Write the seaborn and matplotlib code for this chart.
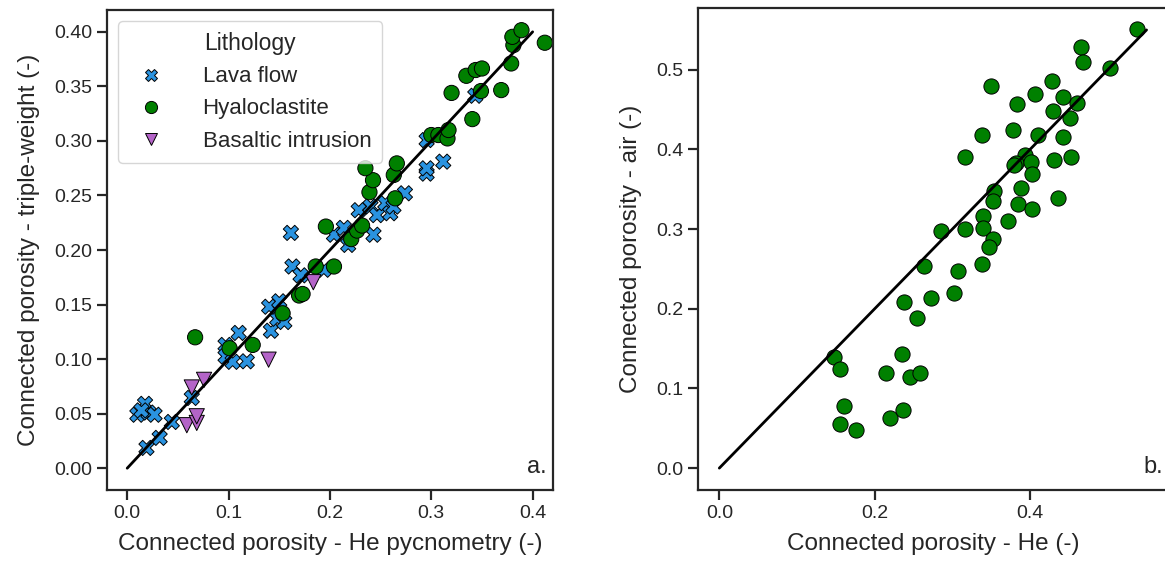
import matplotlib
matplotlib.use("Agg")
import matplotlib.pyplot as plt
import pandas as pd
import seaborn as sns

# left panel: He pycnometry vs triple-weight, by lithology
lava_he = [0.0176, 0.010, 0.021, 0.027, 0.014, 0.044, 0.032, 0.019, 0.0637,
           0.097, 0.097, 0.104, 0.118, 0.110, 0.1418, 0.148, 0.155, 0.140,
           0.150, 0.1615, 0.163, 0.171, 0.194, 0.204, 0.2137, 0.218, 0.2284,
           0.240, 0.2464, 0.243, 0.2546, 0.2595, 0.2627, 0.274, 0.2954,
           0.2954, 0.2954, 0.3118, 0.3434]
lava_tw = [0.059, 0.049, 0.051, 0.049, 0.053, 0.0424, 0.0278, 0.0186, 0.0644,
           0.113, 0.1025, 0.0975, 0.098, 0.124, 0.126, 0.137, 0.134, 0.148,
           0.153, 0.2157, 0.1849, 0.1768, 0.1819, 0.214, 0.2203, 0.2047, 0.2365,
           0.240, 0.232, 0.214, 0.243, 0.2337, 0.2398, 0.252, 0.270,
           0.2749, 0.3008, 0.281, 0.3414]

hyalo_he = [0.067, 0.101, 0.1238, 0.1533, 0.1696, 0.173, 0.186, 0.204, 0.196,
            0.221, 0.2268, 0.2317, 0.239, 0.2425, 0.235, 0.2644, 0.263, 0.266,
            0.300, 0.307, 0.316, 0.317, 0.3405, 0.320, 0.349, 0.369, 0.3346,
            0.3438, 0.350, 0.3788, 0.381, 0.380, 0.389, 0.412]
hyalo_tw = [0.120, 0.110, 0.113, 0.142, 0.1583, 0.1597, 0.1849, 0.1849, 0.2215,
            0.210, 0.2178, 0.2224, 0.253, 0.264, 0.275, 0.2474, 0.2688, 0.2794,
            0.3054, 0.3054, 0.3023, 0.310, 0.320, 0.344, 0.3457, 0.3466, 0.3597,
            0.365, 0.3664, 0.371, 0.3878, 0.3954, 0.4015, 0.390]

intr_he = [0.0588, 0.0686, 0.0686, 0.0637, 0.0758, 0.1395, 0.1836]
intr_tw = [0.0394, 0.0415, 0.0476, 0.074, 0.081, 0.0995, 0.1705]

# right panel: He vs air (hyaloclastite only)
air_he = [0.538, 0.466, 0.468, 0.503, 0.350, 0.428, 0.407, 0.383, 0.442, 0.460,
          0.429, 0.452, 0.378, 0.338, 0.410, 0.443, 0.316, 0.394, 0.453, 0.431,
          0.382, 0.401, 0.380, 0.403, 0.389, 0.353, 0.352, 0.384, 0.436, 0.402,
          0.340, 0.371, 0.285, 0.316, 0.340, 0.352, 0.347, 0.264, 0.307, 0.338,
          0.238, 0.272, 0.302, 0.254, 0.148, 0.155, 0.235, 0.215, 0.245, 0.258,
          0.161, 0.156, 0.176, 0.220, 0.237]
air_air = [0.551, 0.529, 0.510, 0.502, 0.479, 0.486, 0.470, 0.457, 0.466, 0.458,
           0.448, 0.440, 0.425, 0.418, 0.418, 0.416, 0.390, 0.393, 0.391, 0.387,
           0.383, 0.384, 0.380, 0.369, 0.352, 0.348, 0.335, 0.332, 0.339, 0.325,
           0.316, 0.310, 0.297, 0.300, 0.301, 0.287, 0.277, 0.254, 0.247, 0.256,
           0.209, 0.214, 0.220, 0.189, 0.139, 0.125, 0.143, 0.119, 0.114, 0.120,
           0.078, 0.055, 0.048, 0.063, 0.073]

one_to_one_a = [0.0, 0.4]
one_to_one_b = [0.0, 0.55]

lithologies = ["Lava flow", "Hyaloclastite", "Basaltic intrusion"]
colors = {"Lava flow": "#2a93e0", "Hyaloclastite": "#008000",
          "Basaltic intrusion": "#b464c8"}
markers = {"Lava flow": "X", "Hyaloclastite": "o", "Basaltic intrusion": "v"}

left = pd.DataFrame({
    "he": lava_he + hyalo_he + intr_he,
    "tw": lava_tw + hyalo_tw + intr_tw,
    "Lithology": (["Lava flow"] * len(lava_he) + ["Hyaloclastite"] * len(hyalo_he)
                  + ["Basaltic intrusion"] * len(intr_he)),
})
right = pd.DataFrame({"he": air_he, "air": air_air})

sns.set_style("ticks")
plt.rcParams["font.family"] = ["Liberation Sans", "DejaVu Sans"]
plt.rcParams["axes.edgecolor"] = "#262626"
plt.rcParams["axes.linewidth"] = 1.6

fig = plt.figure(figsize=(11.65, 5.69), dpi=100)
ax1 = fig.add_axes([0.0918, 0.1388, 0.3828, 0.8436])
ax2 = fig.add_axes([0.5991, 0.1388, 0.4034, 0.8471])

sns.scatterplot(data=left, x="he", y="tw", hue="Lithology", style="Lithology",
                hue_order=lithologies, style_order=lithologies,
                palette=colors, markers=markers, s=120,
                edgecolor="black", linewidth=0.7, ax=ax1, zorder=2)
sns.lineplot(x=one_to_one_a, y=one_to_one_a, color="black", lw=2, ax=ax1, zorder=3)

sns.scatterplot(data=right, x="he", y="air", color="#008000", s=120,
                edgecolor="black", linewidth=0.7, ax=ax2, zorder=2)
sns.lineplot(x=one_to_one_b, y=one_to_one_b, color="black", lw=2, ax=ax2, zorder=3)

# axis setup
ax1.set_xlim(-0.02, 0.42)
ax1.set_ylim(-0.02, 0.42)
ax1.set_xticks([0.0, 0.1, 0.2, 0.3, 0.4])
ax1.set_yticks([0.0, 0.05, 0.1, 0.15, 0.2, 0.25, 0.3, 0.35, 0.4])
ax1.set_yticklabels(["%.2f" % v for v in ax1.get_yticks()])
ax1.set_xticklabels(["%.1f" % v for v in ax1.get_xticks()])
ax1.set_xlabel("Connected porosity - He pycnometry (-)", fontsize=17.5, labelpad=8)
ax1.set_ylabel("Connected porosity - triple-weight (-)", fontsize=17.5, labelpad=10)

ax2.set_xlim(-0.0275, 0.5775)
ax2.set_ylim(-0.0275, 0.5775)
ax2.set_xticks([0.0, 0.2, 0.4])
ax2.set_yticks([0.0, 0.1, 0.2, 0.3, 0.4, 0.5])
ax2.set_xticklabels(["%.1f" % v for v in ax2.get_xticks()])
ax2.set_yticklabels(["%.1f" % v for v in ax2.get_yticks()])
ax2.set_xlabel("Connected porosity - He (-)", fontsize=17.5, labelpad=8)
ax2.set_ylabel("Connected porosity - air (-)", fontsize=17.5, labelpad=10)

for ax in (ax1, ax2):
    ax.tick_params(labelsize=14, length=7, width=1.6, color="#262626")
    for sp in ax.spines.values():
        sp.set_visible(True)

leg = ax1.legend(title="Lithology", loc="upper left", fontsize=16,
                 title_fontsize=16.5, frameon=True, markerscale=0.8,
                 borderpad=0.5, handletextpad=1.3, labelspacing=0.5)
leg.get_frame().set_edgecolor("#cccccc")

ax1.text(0.985, 0.025, "a.", transform=ax1.transAxes, ha="right",
         va="bottom", fontsize=17)
ax2.text(0.99, 0.025, "b.", transform=ax2.transAxes, ha="right",
         va="bottom", fontsize=17)

fig.savefig("out.png", dpi=100)
